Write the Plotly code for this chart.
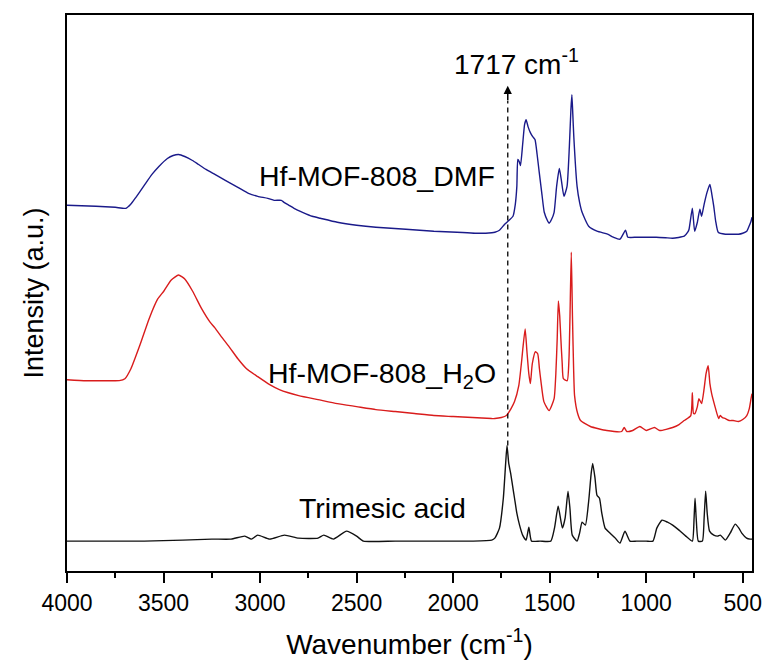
import plotly.graph_objects as go

# ---- data (wavenumber in cm-1, intensity in arbitrary units, stacked as in the figure) ----
trimesic_wn = [4000, 3800, 3600, 3400, 3250, 3150, 3079, 3045, 3012, 2950, 2874, 2800, 2700, 2670,
               2620, 2552, 2500, 2465, 2300, 2100, 1900, 1800, 1784, 1760, 1740, 1728, 1721, 1712,
               1702, 1690, 1682, 1670, 1656, 1640, 1622, 1608, 1594, 1550, 1494, 1475, 1456, 1434,
               1420, 1405, 1395, 1383, 1358, 1345, 1332, 1315, 1298, 1285, 1277, 1265, 1255, 1242,
               1230, 1213, 1187, 1160, 1136, 1110, 1084, 1050, 1000, 965, 945, 918, 890, 863, 830,
               795, 761, 752, 747, 741, 730, 709, 700, 692, 684, 672, 650, 630, 616, 590, 565, 539,
               520, 505, 480, 462, 450]
trimesic_int = [30, 30, 30, 31, 32, 32, 35, 32, 36, 32, 36, 33, 33, 36,
                32, 40, 35, 30, 30, 30, 30, 31, 33, 43, 73, 108, 126, 108,
                98, 83, 73, 58, 46, 36, 31, 44, 30, 30, 30, 43, 65, 43,
                53, 80, 63, 36, 30, 38, 49, 46, 70, 98, 108, 93, 76, 73,
                58, 43, 38, 33, 28, 40, 30, 30, 30, 30, 43, 51, 49, 46, 41,
                35, 30, 53, 73, 53, 30, 30, 53, 80, 58, 40, 36, 35, 36, 31, 38, 47,
                43, 38, 33, 32, 32]

h2o_wn = [4000, 3900, 3800, 3729, 3700, 3669, 3620, 3575, 3530, 3498, 3460, 3422, 3390, 3350,
          3302, 3260, 3234, 3200, 3160, 3115, 3070, 3012, 2950, 2900, 2800, 2700, 2600, 2500,
          2400, 2300, 2200, 2100, 2000, 1900, 1800, 1784, 1750, 1724, 1700, 1682, 1660, 1645,
          1639, 1627, 1618, 1608, 1600, 1590, 1574, 1562, 1553, 1545, 1530, 1503, 1477, 1468,
          1461, 1455, 1448, 1442, 1435, 1429, 1409, 1400, 1395, 1388, 1382, 1376, 1371, 1355,
          1340, 1289, 1204, 1127, 1114, 1100, 1070, 1033, 1000, 957, 930, 863, 830, 803, 769,
          761, 755, 748, 735, 727, 713, 700, 690, 679, 670, 661, 645, 625, 617, 605, 590, 570,
          550, 522, 500, 479, 466, 457, 452]
h2o_int = [192, 191, 191, 191, 193, 203, 228, 253, 273, 281, 292, 297, 293, 281,
           263, 250, 244, 235, 225, 213, 203, 195, 187, 182, 176, 172, 168, 165,
           162, 160, 158, 156, 155, 154, 153, 153, 154, 156, 163, 170, 186, 211,
           223, 243, 221, 198, 188, 208, 220, 218, 203, 190, 170, 161, 173, 198,
           233, 271, 256, 233, 208, 193, 191, 213, 253, 320, 256, 203, 176, 158,
           151, 145, 141, 140, 144, 140, 141, 145, 141, 144, 141, 144, 147, 151, 156,
           179, 158, 158, 165, 173, 168, 183, 198, 206, 188, 178, 166, 153, 156, 154, 153, 151,
           151, 150, 152, 156, 163, 173, 178]

dmf_wn = [4000, 3850, 3750, 3695, 3670, 3643, 3600, 3560, 3524, 3480, 3450, 3422, 3390, 3350,
          3319, 3280, 3234, 3180, 3115, 3060, 3012, 2960, 2927, 2890, 2876, 2850, 2824, 2780,
          2730, 2688, 2600, 2500, 2400, 2245, 2100, 1980, 1886, 1800, 1784, 1760, 1733, 1710,
          1690, 1678, 1670, 1665, 1658, 1651, 1640, 1630, 1622, 1612, 1600, 1588, 1576, 1565,
          1554, 1540, 1528, 1510, 1503, 1490, 1477, 1464, 1450, 1440, 1426, 1410, 1398, 1390,
          1385, 1380, 1375, 1358, 1345, 1332, 1298, 1255, 1200, 1170, 1136, 1107, 1095, 1050,
          1000, 948, 900, 863, 803, 785, 778, 761, 749, 735, 722, 713, 700, 685, 670, 660, 650,
          640, 627, 590, 560, 522, 500, 479, 465, 457, 452]
dmf_int = [367, 366, 365, 364, 368, 375, 387, 398, 406, 414, 417, 418, 416, 412,
           408, 403, 398, 392, 385, 379, 376, 374, 372, 372, 370, 367, 364, 360,
           356, 354, 350, 347, 345, 343, 341, 340, 339, 339.5, 340, 342, 348, 352,
           356, 368, 386, 413, 411, 407, 428, 448, 453, 446, 440, 436, 433, 418,
           400, 378, 360, 351, 349, 353, 360, 386, 404, 393, 376, 386, 426, 463,
           478, 458, 436, 386, 370, 360, 346, 341, 338, 335, 333, 342, 335, 335,
           335, 335, 334.5, 334, 336, 340, 343, 364, 341, 350, 363, 356, 368, 380, 388, 378, 366,
           351, 340, 338, 338, 338, 339, 341, 347, 351, 355]

tick_vals = [4000, 3500, 3000, 2500, 2000, 1500, 1000, 500]
marker_wn = 1717

FONT = "Arial, 'Liberation Sans', sans-serif"
LINE = dict(width=1.4, shape="spline", smoothing=0.5)

fig = go.Figure()
fig.add_trace(go.Scatter(x=trimesic_wn, y=trimesic_int, mode="lines",
                         line=dict(color="#111111", **LINE), showlegend=False))
fig.add_trace(go.Scatter(x=h2o_wn, y=h2o_int, mode="lines",
                         line=dict(color="#d91c1c", **LINE), showlegend=False))
fig.add_trace(go.Scatter(x=dmf_wn, y=dmf_int, mode="lines",
                         line=dict(color="#1a1a8a", **LINE), showlegend=False))

# dashed marker line at 1717 cm-1 with arrow
fig.add_trace(go.Scatter(x=[marker_wn, marker_wn], y=[trimesic_int[trimesic_wn.index(1721)], 472],
                         mode="lines", line=dict(color="black", width=1.3, dash="5px,4px"),
                         showlegend=False, hoverinfo="skip"))
fig.add_annotation(x=marker_wn, y=487, xref="x", yref="y", ax=0, ay=16, axref="pixel", ayref="pixel",
                   showarrow=True, arrowhead=2, arrowsize=1.1, arrowwidth=1.5, arrowcolor="black",
                   text="", standoff=0)
fig.add_annotation(x=1671, y=511, xref="x", yref="y", showarrow=False,
                   text="1717 cm<sup>-1</sup>", font=dict(family=FONT, size=28, color="black"))

fig.add_annotation(x=1774, y=396, xref="x", yref="y", showarrow=False, xanchor="right",
                   text="Hf-MOF-808_DMF", font=dict(family=FONT, size=28.5, color="black"))
fig.add_annotation(x=1769, y=197, xref="x", yref="y", showarrow=False, xanchor="right",
                   text="Hf-MOF-808_H<sub>2</sub>O", font=dict(family=FONT, size=28.5, color="black"))
fig.add_annotation(x=1922, y=63, xref="x", yref="y", showarrow=False, xanchor="right",
                   text="Trimesic acid", font=dict(family=FONT, size=28.5, color="black"))

fig.update_xaxes(range=[4000, 452], tickvals=tick_vals, ticks="outside", ticklen=10, tickwidth=1.5,
                 tickcolor="black", showline=True, linecolor="black", linewidth=2, mirror=True,
                 showgrid=False, zeroline=False,
                 tickfont=dict(family=FONT, size=23, color="black"),
                 minor=dict(dtick=250, tick0=500, ticks="outside", ticklen=5, tickwidth=1.5, tickcolor="black"),
                 title=dict(text="Wavenumber (cm<sup>-1</sup>)", font=dict(family=FONT, size=28, color="black"),
                            standoff=20))
fig.update_yaxes(range=[0, 558], showticklabels=False, ticks="", showline=True, linecolor="black",
                 linewidth=2, mirror=True, showgrid=False, zeroline=False,
                 title=dict(text="Intensity (a.u.)", font=dict(family=FONT, size=27, color="black"),
                            standoff=14))

fig.update_layout(width=774, height=667, margin=dict(l=67, r=14, t=15, b=94),
                  plot_bgcolor="white", paper_bgcolor="white")

fig.write_html("out.html")
